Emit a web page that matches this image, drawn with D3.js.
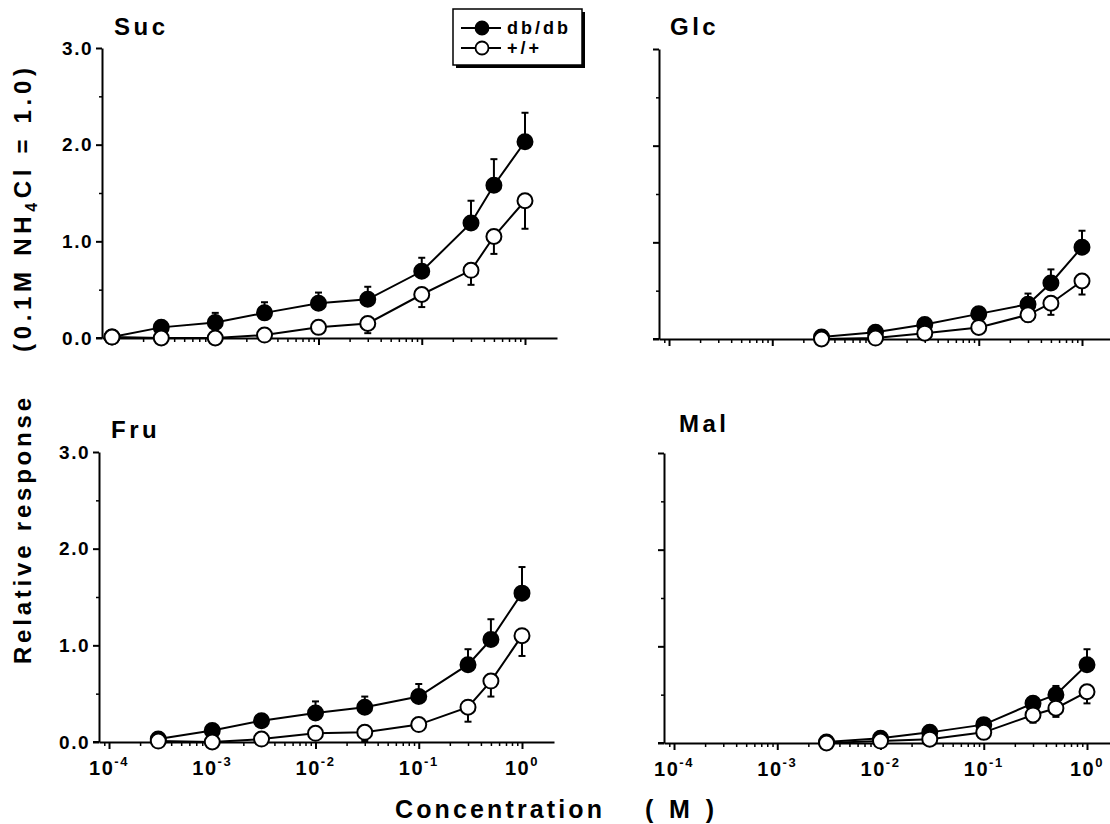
<!DOCTYPE html>
<html><head><meta charset="utf-8">
<script src="https://cdn.jsdelivr.net/npm/d3@7"></script>
<style>
body{margin:0;background:#fff;}
svg{display:block;}
text{font-family:"Liberation Sans",Arial,Helvetica,sans-serif;font-weight:bold;fill:#000;}
</style>
</head><body>
<svg id="chart" width="1110" height="824"></svg>
<script>
// ---------- data ----------
const seriesNames = ['db/db', '+/+'];
const panelNames = ['Suc', 'Glc', 'Fru', 'Mal'];

const sucConc  = [1e-4, 3e-4, 1e-3, 3e-3, 1e-2, 3e-2, 1e-1, 3e-1, 5e-1, 1];
const sucDb    = [0.01, 0.11, 0.16, 0.26, 0.36, 0.40, 0.69, 1.19, 1.58, 2.03];
const sucDbErr = [0, 0, 0.10, 0.11, 0.11, 0.13, 0.14, 0.23, 0.27, 0.30];
const sucWt    = [0.01, 0.00, 0.00, 0.03, 0.11, 0.15, 0.45, 0.70, 1.05, 1.42];
const sucWtErr = [0, 0, 0, 0, 0, 0.10, 0.13, 0.15, 0.18, 0.29];

const glcConc  = [3e-3, 1e-2, 3e-2, 1e-1, 3e-1, 5e-1, 1];
const glcDb    = [0.02, 0.07, 0.15, 0.26, 0.36, 0.58, 0.95];
const glcDbErr = [0, 0, 0, 0.06, 0.11, 0.14, 0.17];
const glcWt    = [0.00, 0.01, 0.06, 0.12, 0.25, 0.37, 0.60];
const glcWtErr = [0, 0, 0, 0, 0.07, 0.12, 0.14];

const fruConc  = [3e-4, 1e-3, 3e-3, 1e-2, 3e-2, 1e-1, 3e-1, 5e-1, 1];
const fruDb    = [0.03, 0.12, 0.22, 0.30, 0.36, 0.47, 0.80, 1.06, 1.54];
const fruDbErr = [0, 0, 0, 0.12, 0.11, 0.13, 0.16, 0.21, 0.27];
const fruWt    = [0.01, 0.00, 0.03, 0.09, 0.10, 0.18, 0.36, 0.63, 1.10];
const fruWtErr = [0, 0, 0, 0, 0.09, 0, 0.15, 0.16, 0.21];

const malConc  = [3e-3, 1e-2, 3e-2, 1e-1, 3e-1, 5e-1, 1];
const malDb    = [0.01, 0.05, 0.11, 0.19, 0.41, 0.50, 0.81];
const malDbErr = [0, 0, 0, 0, 0.06, 0.09, 0.16];
const malWt    = [0.00, 0.02, 0.04, 0.11, 0.29, 0.36, 0.53];
const malWtErr = [0, 0, 0, 0, 0.08, 0.09, 0.12];

const decadeTicks = [1e-4, 1e-3, 1e-2, 1e-1, 1];
const decadeExponents = ['-4', '-3', '-2', '-1', '0'];
const yMajorTicks = [0, 1, 2, 3];
const yMinorTicks = [0.5, 1.5, 2.5];
const yTickLabels = ['0.0', '1.0', '2.0', '3.0'];

const yTitleTop = '(0.1M NH';
const yTitleSub = '4';
const yTitleEnd = 'Cl = 1.0)';
const yTitleBottom = 'Relative response';
const xTitle = 'Concentration';
const xUnit = '( M )';

// ---------- build ----------
const panels = [
  {name: panelNames[0], conc: sucConc, db: sucDb, dbErr: sucDbErr, wt: sucWt, wtErr: sucWtErr},
  {name: panelNames[1], conc: glcConc, db: glcDb, dbErr: glcDbErr, wt: glcWt, wtErr: glcWtErr},
  {name: panelNames[2], conc: fruConc, db: fruDb, dbErr: fruDbErr, wt: fruWt, wtErr: fruWtErr},
  {name: panelNames[3], conc: malConc, db: malDb, dbErr: malDbErr, wt: malWt, wtErr: malWtErr}
];
const layout = [
  {ax: 102, y0: 338, y3: 48,  yLab: true,  xLab: false, tx: 114, ty: 35},
  {ax: 659, y0: 339, y3: 49,  yLab: false, xLab: false, tx: 670, ty: 35},
  {ax: 99,  y0: 742, y3: 452, yLab: true,  xLab: true,  tx: 111, ty: 438},
  {ax: 664, y0: 743, y3: 453, yLab: false, xLab: true,  tx: 679, ty: 432}
];
const axisWidth = 455;
const xDomain = [Math.pow(10, -4.097), Math.pow(10, 0.31)];
const minorX = [9e-5].concat(decadeTicks.slice(0, -1).flatMap(d => [2,3,4,5,6,7,8,9].map(m => d * m)));

const svg = d3.select('#chart');
const R = 7.5, SW = 2;

panels.forEach((p, i) => {
  const L = layout[i];
  const x = d3.scaleLog().domain(xDomain).range([L.ax, L.ax + axisWidth]);
  const y = d3.scaleLinear().domain([0, 3]).range([L.y0, L.y3]);
  const g = svg.append('g');

  // y axis
  const yMaj = g.append('g').attr('transform', `translate(${L.ax},0)`)
    .call(d3.axisLeft(y).tickValues(yMajorTicks).tickSize(6).tickSizeOuter(0).tickPadding(3)
      .tickFormat((d, k) => L.yLab ? yTickLabels[k] : ''));
  yMaj.selectAll('path,line').attr('stroke', '#000').attr('stroke-width', SW);
  yMaj.selectAll('text').attr('font-size', 19).attr('letter-spacing', 1.5)
    .attr('font-family', '"Liberation Sans",Arial,sans-serif').attr('font-weight', 'bold');
  const yMin = g.append('g').attr('transform', `translate(${L.ax},0)`)
    .call(d3.axisLeft(y).tickValues(yMinorTicks).tickSize(3).tickSizeOuter(0).tickFormat(''));
  yMin.select('path').remove();
  yMin.selectAll('line').attr('stroke', '#000').attr('stroke-width', 1.5);

  // x axis
  const xMaj = g.append('g').attr('transform', `translate(0,${L.y0})`)
    .call(d3.axisBottom(x).tickValues(decadeTicks).tickSize(7).tickSizeOuter(0).tickFormat(''));
  xMaj.selectAll('path,line').attr('stroke', '#000').attr('stroke-width', SW);
  const xMin = g.append('g').attr('transform', `translate(0,${L.y0})`)
    .call(d3.axisBottom(x).tickValues(minorX).tickSize(4).tickSizeOuter(0).tickFormat(''));
  xMin.select('path').remove();
  xMin.selectAll('line').attr('stroke', '#000').attr('stroke-width', 1.5);
  g.append('line').attr('x1', L.ax - 6).attr('x2', L.ax).attr('y1', L.y0).attr('y2', L.y0)
    .attr('stroke', '#000').attr('stroke-width', SW);

  if (L.xLab) {
    decadeTicks.forEach((d, k) => {
      const t = g.append('text').attr('x', x(d)).attr('y', L.y0 + 33)
        .attr('text-anchor', 'middle').attr('font-size', 20).attr('letter-spacing', 1.5);
      t.append('tspan').text('10');
      t.append('tspan').attr('dy', -9).attr('font-size', 13).text(decadeExponents[k]);
    });
  }

  // title
  g.append('text').attr('x', L.tx).attr('y', L.ty).attr('font-size', 24)
    .attr('letter-spacing', 3.5).text(p.name);

  const line = d3.line().x(d => x(d.c)).y(d => y(d.v));
  const series = [
    {vals: p.db, err: p.dbErr, dir: 1, fill: '#000'},
    {vals: p.wt, err: p.wtErr, dir: -1, fill: '#fff'}
  ];
  series.forEach(s => {
    const pts = p.conc.map((c, k) => ({c: c, v: s.vals[k], e: s.err[k]}));
    g.append('path').datum(pts).attr('d', line).attr('fill', 'none')
      .attr('stroke', '#000').attr('stroke-width', SW);
    const eb = g.selectAll(null).data(pts.filter(d => d.e > 0)).enter().append('g');
    eb.append('line').attr('x1', d => x(d.c)).attr('x2', d => x(d.c))
      .attr('y1', d => y(d.v)).attr('y2', d => y(d.v + s.dir * d.e))
      .attr('stroke', '#000').attr('stroke-width', SW);
    eb.append('line').attr('x1', d => x(d.c) - 3.5).attr('x2', d => x(d.c) + 3.5)
      .attr('y1', d => y(d.v + s.dir * d.e)).attr('y2', d => y(d.v + s.dir * d.e))
      .attr('stroke', '#000').attr('stroke-width', SW);
  });
  series.forEach(s => {
    const pts = p.conc.map((c, k) => ({c: c, v: s.vals[k]}));
    g.selectAll(null).data(pts).enter().append('circle')
      .attr('cx', d => x(d.c)).attr('cy', d => y(d.v)).attr('r', R)
      .attr('fill', s.fill).attr('stroke', '#000').attr('stroke-width', SW);
  });
});

// legend
const lg = svg.append('g');
lg.append('rect').attr('x', 456).attr('y', 12).attr('width', 129).attr('height', 56).attr('fill', '#000');
lg.append('rect').attr('x', 453).attr('y', 9).attr('width', 129).attr('height', 56)
  .attr('fill', '#fff').attr('stroke', '#000').attr('stroke-width', 1.5);
const legendFill = ['#000', '#fff'];
seriesNames.forEach((n, k) => {
  const yy = 28 + k * 20;
  lg.append('line').attr('x1', 461).attr('x2', 501).attr('y1', yy).attr('y2', yy)
    .attr('stroke', '#000').attr('stroke-width', 1.8);
  lg.append('circle').attr('cx', 482).attr('cy', yy).attr('r', 6.5)
    .attr('fill', legendFill[k]).attr('stroke', '#000').attr('stroke-width', 1.8);
  lg.append('text').attr('x', 507).attr('y', yy + 6).attr('font-size', 18)
    .attr('letter-spacing', 3).text(n);
});

// axis titles
const yt1 = svg.append('text').attr('transform', 'translate(31,210) rotate(-90)')
  .attr('text-anchor', 'middle').attr('font-size', 24)
  .attr('textLength', 284).attr('lengthAdjust', 'spacing');
yt1.append('tspan').text(yTitleTop);
yt1.append('tspan').attr('dy', 6).attr('font-size', 16).text(yTitleSub);
yt1.append('tspan').attr('dy', -6).text(yTitleEnd);

svg.append('text').attr('transform', 'translate(31,531) rotate(-90)')
  .attr('text-anchor', 'middle').attr('font-size', 24)
  .attr('textLength', 266).attr('lengthAdjust', 'spacing').text(yTitleBottom);

svg.append('text').attr('x', 395).attr('y', 818).attr('font-size', 25)
  .attr('textLength', 207).attr('lengthAdjust', 'spacing').text(xTitle);
svg.append('text').attr('x', 645).attr('y', 818).attr('font-size', 25)
  .attr('textLength', 69).attr('lengthAdjust', 'spacing').text(xUnit);
</script>
</body></html>
